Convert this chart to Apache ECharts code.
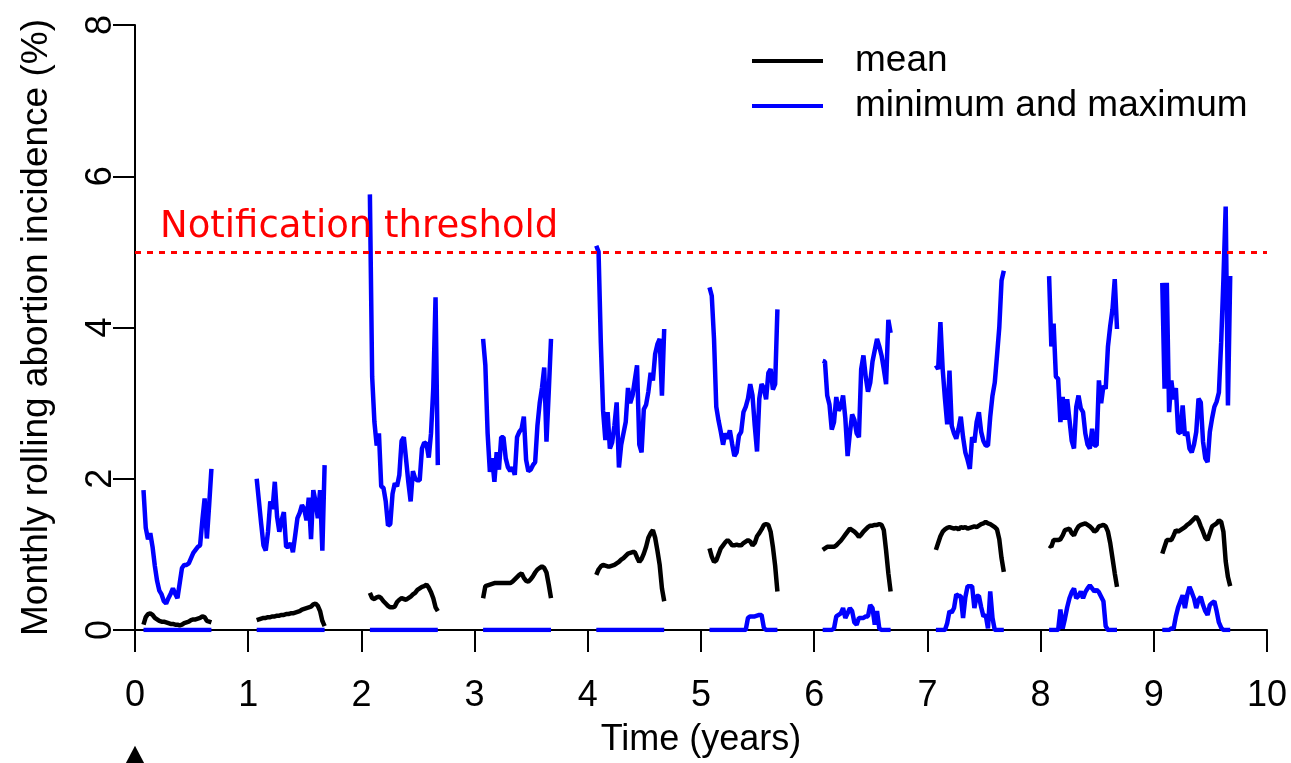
<!DOCTYPE html>
<html>
<head>
<meta charset="utf-8">
<script src="https://cdn.jsdelivr.net/npm/echarts@6/dist/echarts.min.js"></script>
<style>
html,body{margin:0;padding:0;background:#ffffff;}
#chart{width:1291px;height:763px;}
</style>
</head>
<body>
<div id="chart"></div>
<script>
// ---- data ----
const years = [0, 1, 2, 3, 4, 5, 6, 7, 8, 9];
// sampling times within each year (years after the start of that year)
const tOffset = [0.075,0.095,0.115,0.135,0.155,0.175,0.195,0.215,0.235,0.255,0.275,0.295,0.315,0.335,0.355,0.375,0.395,0.415,0.435,0.455,0.475,0.495,0.515,0.535,0.555,0.575,0.595,0.615,0.635,0.655,0.675];
const xTickLabels = ['0','1','2','3','4','5','6','7','8','9','10'];
const yTickLabels = ['0','2','4','6','8'];
const threshold = 5;
const thresholdLabel = 'Notification threshold';
const startMarker = [0, -1.65];

// maximum (%)
const maxY0 = [1.85,1.35,1.20,1.28,1.10,0.85,0.65,0.52,0.47,0.38,0.35,0.42,0.48,0.55,0.48,0.42,0.62,0.82,0.86,0.86,0.88,0.95,1.02,1.06,1.10,1.12,1.45,1.74,1.21,1.65,2.13];
const maxY1 = [2.00,1.70,1.40,1.12,1.05,1.30,1.70,1.60,1.96,1.50,1.30,1.45,1.56,1.10,1.10,1.15,1.03,1.25,1.48,1.55,1.65,1.60,1.45,1.75,1.20,1.85,1.70,1.48,1.85,1.05,2.18];
const maxY2 = [5.76,3.35,2.75,2.44,2.60,1.90,1.88,1.70,1.38,1.40,1.80,1.94,1.90,2.05,2.50,2.55,2.25,1.95,1.70,2.10,2.00,1.98,1.98,2.40,2.48,2.46,2.28,2.60,3.20,4.40,2.18];
const maxY3 = [3.85,3.50,2.60,2.09,2.27,1.96,2.35,2.12,2.55,2.55,2.27,2.15,2.10,2.15,2.05,2.55,2.62,2.66,2.82,2.25,2.10,2.12,2.18,2.22,2.70,3.00,3.20,3.47,2.49,3.15,3.85];
const maxY4 = [5.08,5.00,3.80,2.90,2.51,2.88,2.40,2.48,2.70,3.01,2.15,2.45,2.60,2.75,3.20,3.00,3.10,3.30,3.50,2.45,2.35,2.92,2.98,3.15,3.40,3.30,3.65,3.78,3.85,3.10,3.98];
const maxY5 = [4.53,4.42,3.85,2.95,2.77,2.62,2.45,2.60,2.53,2.64,2.46,2.30,2.35,2.57,2.62,2.88,2.95,3.06,3.25,3.10,2.70,2.36,3.06,3.25,3.20,3.05,3.40,3.45,3.18,3.25,4.24];
const maxY6 = [3.56,3.55,3.10,2.98,2.65,2.75,3.08,2.90,2.95,3.10,2.80,2.30,2.60,2.85,2.78,2.60,2.55,3.45,3.63,3.35,3.15,3.27,3.55,3.70,3.85,3.75,3.63,3.45,3.25,4.10,3.93];
const maxY7 = [3.50,3.45,4.07,3.45,3.06,2.72,3.43,2.70,2.60,2.53,2.66,2.82,2.55,2.35,2.25,2.13,2.55,2.48,2.75,2.88,2.62,2.50,2.44,2.44,2.82,3.10,3.27,3.63,4.00,4.62,4.75];
const maxY8 = [4.68,3.75,4.05,3.35,3.32,2.75,3.08,2.78,3.05,2.78,2.50,2.40,2.95,3.10,2.93,2.88,2.60,2.45,2.40,2.66,2.44,2.44,3.30,3.00,3.23,3.19,3.75,4.02,4.24,4.64,3.98];
const maxY9 = [4.59,3.19,4.59,2.88,3.30,3.05,3.20,2.62,2.60,2.97,2.57,2.62,2.40,2.35,2.45,2.62,3.06,3.01,2.49,2.27,2.22,2.62,2.80,2.95,3.02,3.14,3.80,4.64,5.60,2.97,4.68];

// mean (%)
const meanY0 = [0.07,0.17,0.21,0.22,0.20,0.16,0.14,0.12,0.11,0.11,0.10,0.09,0.08,0.08,0.07,0.07,0.06,0.07,0.09,0.10,0.11,0.13,0.14,0.14,0.15,0.16,0.18,0.17,0.12,0.11,0.10];
const meanY1 = [0.13,0.14,0.15,0.16,0.16,0.17,0.17,0.18,0.18,0.19,0.19,0.20,0.20,0.21,0.21,0.22,0.22,0.23,0.24,0.25,0.27,0.28,0.29,0.30,0.31,0.34,0.35,0.32,0.25,0.12,0.05];
const meanY2 = [0.49,0.42,0.41,0.43,0.44,0.42,0.38,0.35,0.32,0.30,0.30,0.31,0.37,0.40,0.42,0.41,0.40,0.42,0.44,0.47,0.49,0.53,0.55,0.57,0.58,0.60,0.56,0.50,0.42,0.30,0.25];
const meanY3 = [0.42,0.58,0.59,0.60,0.61,0.62,0.62,0.62,0.62,0.62,0.62,0.62,0.62,0.64,0.67,0.70,0.73,0.75,0.69,0.65,0.64,0.67,0.71,0.76,0.80,0.82,0.84,0.82,0.76,0.60,0.42];
const meanY4 = [0.73,0.80,0.84,0.86,0.85,0.84,0.84,0.85,0.86,0.88,0.90,0.93,0.95,0.98,1.01,1.02,1.03,1.03,0.96,0.90,0.94,1.01,1.10,1.22,1.28,1.32,1.22,1.05,0.86,0.55,0.38];
const meanY5 = [1.08,0.97,0.90,0.92,1.00,1.08,1.12,1.16,1.19,1.16,1.12,1.12,1.13,1.12,1.12,1.15,1.17,1.19,1.17,1.12,1.15,1.24,1.28,1.33,1.39,1.40,1.39,1.30,1.10,0.85,0.51];
const meanY6 = [1.06,1.08,1.10,1.10,1.10,1.10,1.12,1.15,1.18,1.22,1.26,1.30,1.34,1.32,1.30,1.27,1.23,1.26,1.30,1.33,1.36,1.38,1.38,1.39,1.39,1.40,1.39,1.32,1.05,0.75,0.51];
const meanY7 = [1.06,1.15,1.24,1.30,1.33,1.35,1.36,1.35,1.34,1.35,1.33,1.36,1.35,1.36,1.34,1.35,1.36,1.37,1.36,1.38,1.40,1.41,1.43,1.41,1.40,1.38,1.36,1.33,1.20,0.95,0.77];
const meanY8 = [1.12,1.10,1.19,1.19,1.19,1.20,1.25,1.32,1.33,1.34,1.28,1.25,1.32,1.37,1.39,1.40,1.41,1.39,1.37,1.34,1.30,1.32,1.37,1.38,1.39,1.37,1.30,1.15,0.95,0.75,0.57];
const meanY9 = [1.01,1.10,1.19,1.19,1.19,1.25,1.32,1.30,1.32,1.34,1.36,1.39,1.41,1.44,1.47,1.50,1.45,1.37,1.30,1.22,1.19,1.28,1.37,1.39,1.41,1.45,1.43,1.30,0.91,0.70,0.58];

// minimum (%)
const minY0 = [0,0,0,0,0,0,0,0,0,0,0,0,0,0,0,0,0,0,0,0,0,0,0,0,0,0,0,0,0,0,0];
const minY1 = [0,0,0,0,0,0,0,0,0,0,0,0,0,0,0,0,0,0,0,0,0,0,0,0,0,0,0,0,0,0,0];
const minY2 = [0,0,0,0,0,0,0,0,0,0,0,0,0,0,0,0,0,0,0,0,0,0,0,0,0,0,0,0,0,0,0];
const minY3 = [0,0,0,0,0,0,0,0,0,0,0,0,0,0,0,0,0,0,0,0,0,0,0,0,0,0,0,0,0,0,0];
const minY4 = [0,0,0,0,0,0,0,0,0,0,0,0,0,0,0,0,0,0,0,0,0,0,0,0,0,0,0,0,0,0,0];
const minY5 = [0,0,0,0,0,0,0,0,0,0,0,0,0,0,0,0,0,0.16,0.18,0.18,0.18,0.19,0.20,0.20,0.03,0,0,0,0,0,0];
const minY6 = [0,0,0,0,0,0.02,0.18,0.20,0.22,0.29,0.16,0.22,0.29,0.25,0.10,0.07,0.16,0.16,0.16,0.18,0.18,0.33,0.29,0.07,0.25,0.02,0,0,0,0,0];
const minY7 = [0,0,0,0,0,0.09,0.25,0.23,0.29,0.47,0.45,0.45,0.16,0.43,0.58,0.58,0.58,0.29,0.45,0.45,0.30,0.18,0.20,0.02,0.51,0.16,0,0,0,0,0];
const minY8 = [0,0,0,0,0,0.27,0.02,0.15,0.30,0.42,0.50,0.55,0.42,0.45,0.51,0.42,0.50,0.55,0.59,0.55,0.51,0.53,0.50,0.44,0.38,0.05,0,0,0,0,0];
const minY9 = [0,0,0,0,0.02,0.02,0.18,0.30,0.38,0.46,0.29,0.46,0.57,0.50,0.42,0.29,0.40,0.44,0.33,0.25,0.20,0.33,0.36,0.38,0.25,0.10,0.03,0,0,0,0];

const maxByYear  = [maxY0, maxY1, maxY2, maxY3, maxY4, maxY5, maxY6, maxY7, maxY8, maxY9];
const meanByYear = [meanY0, meanY1, meanY2, meanY3, meanY4, meanY5, meanY6, meanY7, meanY8, meanY9];
const minByYear  = [minY0, minY1, minY2, minY3, minY4, minY5, minY6, minY7, minY8, minY9];

// ---- build series data: one broken line per series, gaps between years ----
function buildSeries(byYear) {
  const out = [];
  years.forEach(function (yr, k) {
    const vals = byYear[k];
    tOffset.forEach(function (t, i) { out.push([yr + t, vals[i]]); });
    out.push([yr + 0.9, '-']);
  });
  return out;
}

const FONT = 'Liberation Sans, Arial, sans-serif';
const BLUE = '#0000FF';

const chart = echarts.init(document.getElementById('chart'), null, {renderer: 'canvas'});
chart.setOption({
  animation: false,
  backgroundColor: '#ffffff',
  grid: {left: 135, right: 24, top: 25, bottom: 131, containLabel: false},
  legend: {
    data: ['mean', 'minimum and maximum'],
    orient: 'vertical',
    left: 752,
    top: 41,
    padding: 0,
    icon: 'rect',
    itemWidth: 71,
    itemHeight: 4,
    itemGap: 5,
    selectedMode: false,
    textStyle: {fontSize: 37, fontFamily: FONT, color: '#000', lineHeight: 40, padding: [0, 0, 0, 27]}
  },
  xAxis: {
    type: 'value', min: 0, max: 10, interval: 1,
    axisLine: {show: true, onZero: false, lineStyle: {color: '#000', width: 2}},
    axisTick: {show: true, length: 22, lineStyle: {color: '#000', width: 2}},
    axisLabel: {fontSize: 36, fontFamily: FONT, color: '#000', margin: 48,
      formatter: function (v) { return xTickLabels[Math.round(v)]; }},
    splitLine: {show: false},
    name: 'Time (years)', nameLocation: 'middle', nameGap: 92,
    nameTextStyle: {fontSize: 36, fontFamily: FONT, color: '#000'}
  },
  yAxis: {
    type: 'value', min: 0, max: 8, interval: 2,
    axisLine: {show: true, onZero: false, lineStyle: {color: '#000', width: 2}},
    axisTick: {show: true, length: 22, lineStyle: {color: '#000', width: 2}},
    axisLabel: {fontSize: 36, fontFamily: FONT, color: '#000', rotate: 90, margin: 16,
      formatter: function (v) { return yTickLabels[Math.round(v / 2)]; }},
    splitLine: {show: false},
    name: 'Monthly rolling abortion incidence (%)', nameLocation: 'middle', nameGap: 80, nameRotate: 90,
    nameTextStyle: {fontSize: 37, fontFamily: FONT, color: '#000'}
  },
  series: [
    {
      name: 'minimum and maximum', type: 'line', data: buildSeries(maxByYear),
      showSymbol: false, symbol: 'none', connectNulls: false, z: 3,
      lineStyle: {color: BLUE, width: 4.5}, itemStyle: {color: BLUE},
      emphasis: {disabled: true},
      markLine: {
        silent: true, symbol: 'none', animation: false,
        data: [{yAxis: threshold}],
        lineStyle: {color: '#FF0000', type: [6, 6], width: 3},
        label: {show: true, position: 'insideStartTop', formatter: thresholdLabel,
          color: '#FF0000', fontSize: 37, fontFamily: 'DejaVu Sans', distance: [25, 6]},
        emphasis: {disabled: true}
      }
    },
    {
      name: 'minimum and maximum', type: 'line', data: buildSeries(minByYear),
      showSymbol: false, symbol: 'none', connectNulls: false, z: 3,
      lineStyle: {color: BLUE, width: 4.5}, itemStyle: {color: BLUE},
      emphasis: {disabled: true}
    },
    {
      name: 'mean', type: 'line', data: buildSeries(meanByYear),
      showSymbol: false, symbol: 'none', connectNulls: false, z: 4,
      lineStyle: {color: '#000000', width: 4.5}, itemStyle: {color: '#000000'},
      emphasis: {disabled: true}
    },
    {
      name: 'start', type: 'scatter', data: [startMarker], clip: false,
      symbol: 'triangle', symbolSize: [19, 18], silent: true,
      itemStyle: {color: '#000000', opacity: 1}, emphasis: {disabled: true}
    }
  ]
});
</script>
</body>
</html>
